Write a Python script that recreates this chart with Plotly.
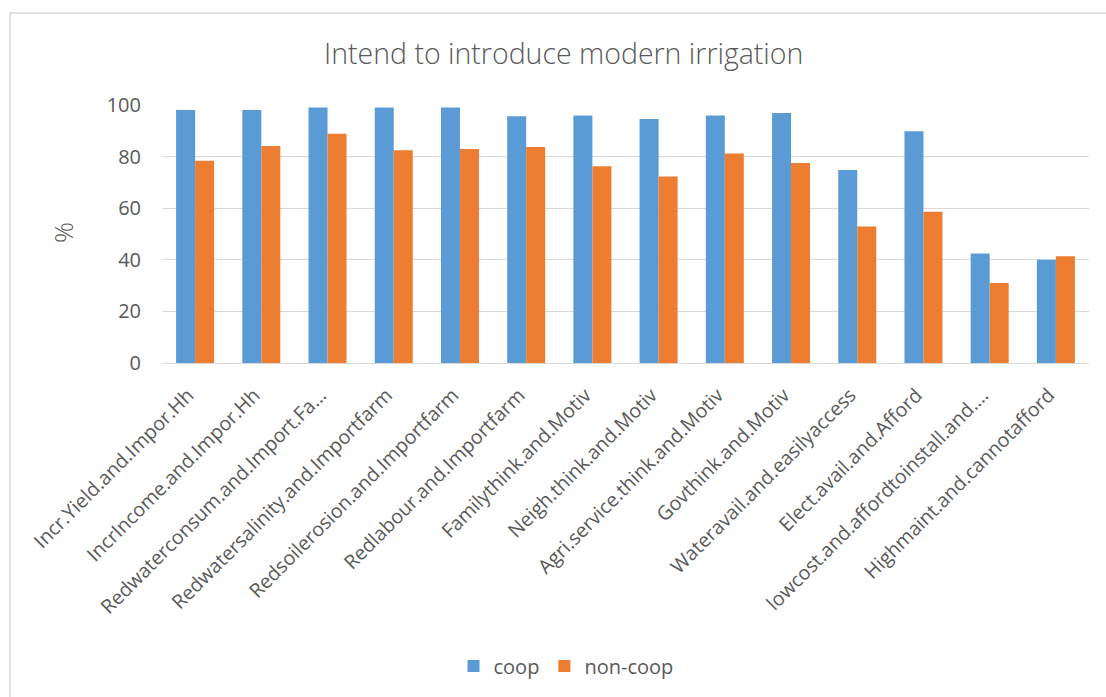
import plotly.graph_objects as go

# Reasons for intending to introduce modern irrigation (% of respondents)
categories = [
    "Incr.Yield.and.Impor.Hh",
    "IncrIncome.and.Impor.Hh",
    "Redwaterconsum.and.Import.Fa…",
    "Redwatersalinity.and.Importfarm",
    "Redsoilerosion.and.Importfarm",
    "Redlabour.and.Importfarm",
    "Familythink.and.Motiv",
    "Neigh.think.and.Motiv",
    "Agri.service.think.and.Motiv",
    "Govthink.and.Motiv",
    "Wateravail.and.easilyaccess",
    "Elect.avail.and.Afford",
    "lowcost.and.affordtoinstall.and.…",
    "Highmaint.and.cannotafford",
]
coop = [98.1, 98.1, 99.0, 99.0, 99.0, 95.6, 95.9, 94.6, 95.9, 96.9, 74.8, 89.8, 42.4, 40.0]
non_coop = [78.4, 84.1, 88.9, 82.5, 82.9, 83.7, 76.3, 72.3, 81.2, 77.5, 52.9, 58.6, 31.0, 41.4]

W, H = 1106, 697
L, R, T, B = 162, 17, 105, 334
PW, PH = W - L - R, H - T - B


def px_x(px):
    return (px - L) / PW


def px_y(py):
    return 1 - (py - T) / PH


FONT = "Open Sans"
TXT = "#595959"
GRID = "#D9D9D9"

fig = go.Figure()
fig.add_trace(go.Bar(name="coop", x=categories, y=coop, marker_color="#5B9BD5",
                     marker_line_width=0))
fig.add_trace(go.Bar(name="non-coop", x=categories, y=non_coop, marker_color="#ED7D31",
                     marker_line_width=0))

fig.update_layout(
    width=W, height=H,
    margin=dict(l=L, r=R, t=T, b=B),
    paper_bgcolor="white", plot_bgcolor="white",
    barmode="group", bargap=0.426, bargroupgap=0,
    font=dict(family=FONT, color=TXT),
    showlegend=True,
    legend=dict(orientation="h", x=px_x(566), xanchor="center",
                y=px_y(666), yanchor="middle",
                font=dict(size=20, color=TXT, family=FONT),
                itemwidth=30, traceorder="normal"),
    xaxis=dict(tickangle=-45, tickfont=dict(size=19.6, color=TXT, family=FONT),
               showgrid=False, showline=True, linecolor=GRID, linewidth=1,
               ticks="", ticklabelstandoff=12, ticklabelshift=-7),
    yaxis=dict(range=[0, 100], dtick=20, tickfont=dict(size=20, color=TXT, family=FONT),
               showgrid=True, gridcolor=GRID, gridwidth=1,
               zeroline=True, zerolinecolor=GRID, zerolinewidth=1,
               showline=False, ticks="", ticklabelstandoff=20),
)

# Chart title and y-axis label
fig.add_annotation(text="Intend to introduce modern irrigation", xref="paper", yref="paper",
                   x=px_x(563), y=px_y(53), xanchor="center", yanchor="middle",
                   showarrow=False, font=dict(size=28.5, color=TXT, family=FONT, weight=300))
fig.add_annotation(text="%", xref="paper", yref="paper", textangle=-90,
                   x=px_x(63), y=px_y(233), xanchor="center", yanchor="middle",
                   showarrow=False, font=dict(size=26, color=TXT, family=FONT, weight=300))

# Chart-area frame
fig.add_shape(type="rect", xref="paper", yref="paper",
              x0=px_x(10), x1=px_x(1115), y0=px_y(705), y1=px_y(13),
              line=dict(color=GRID, width=1.5), fillcolor="rgba(0,0,0,0)", layer="below")

fig.write_html("out.html")
